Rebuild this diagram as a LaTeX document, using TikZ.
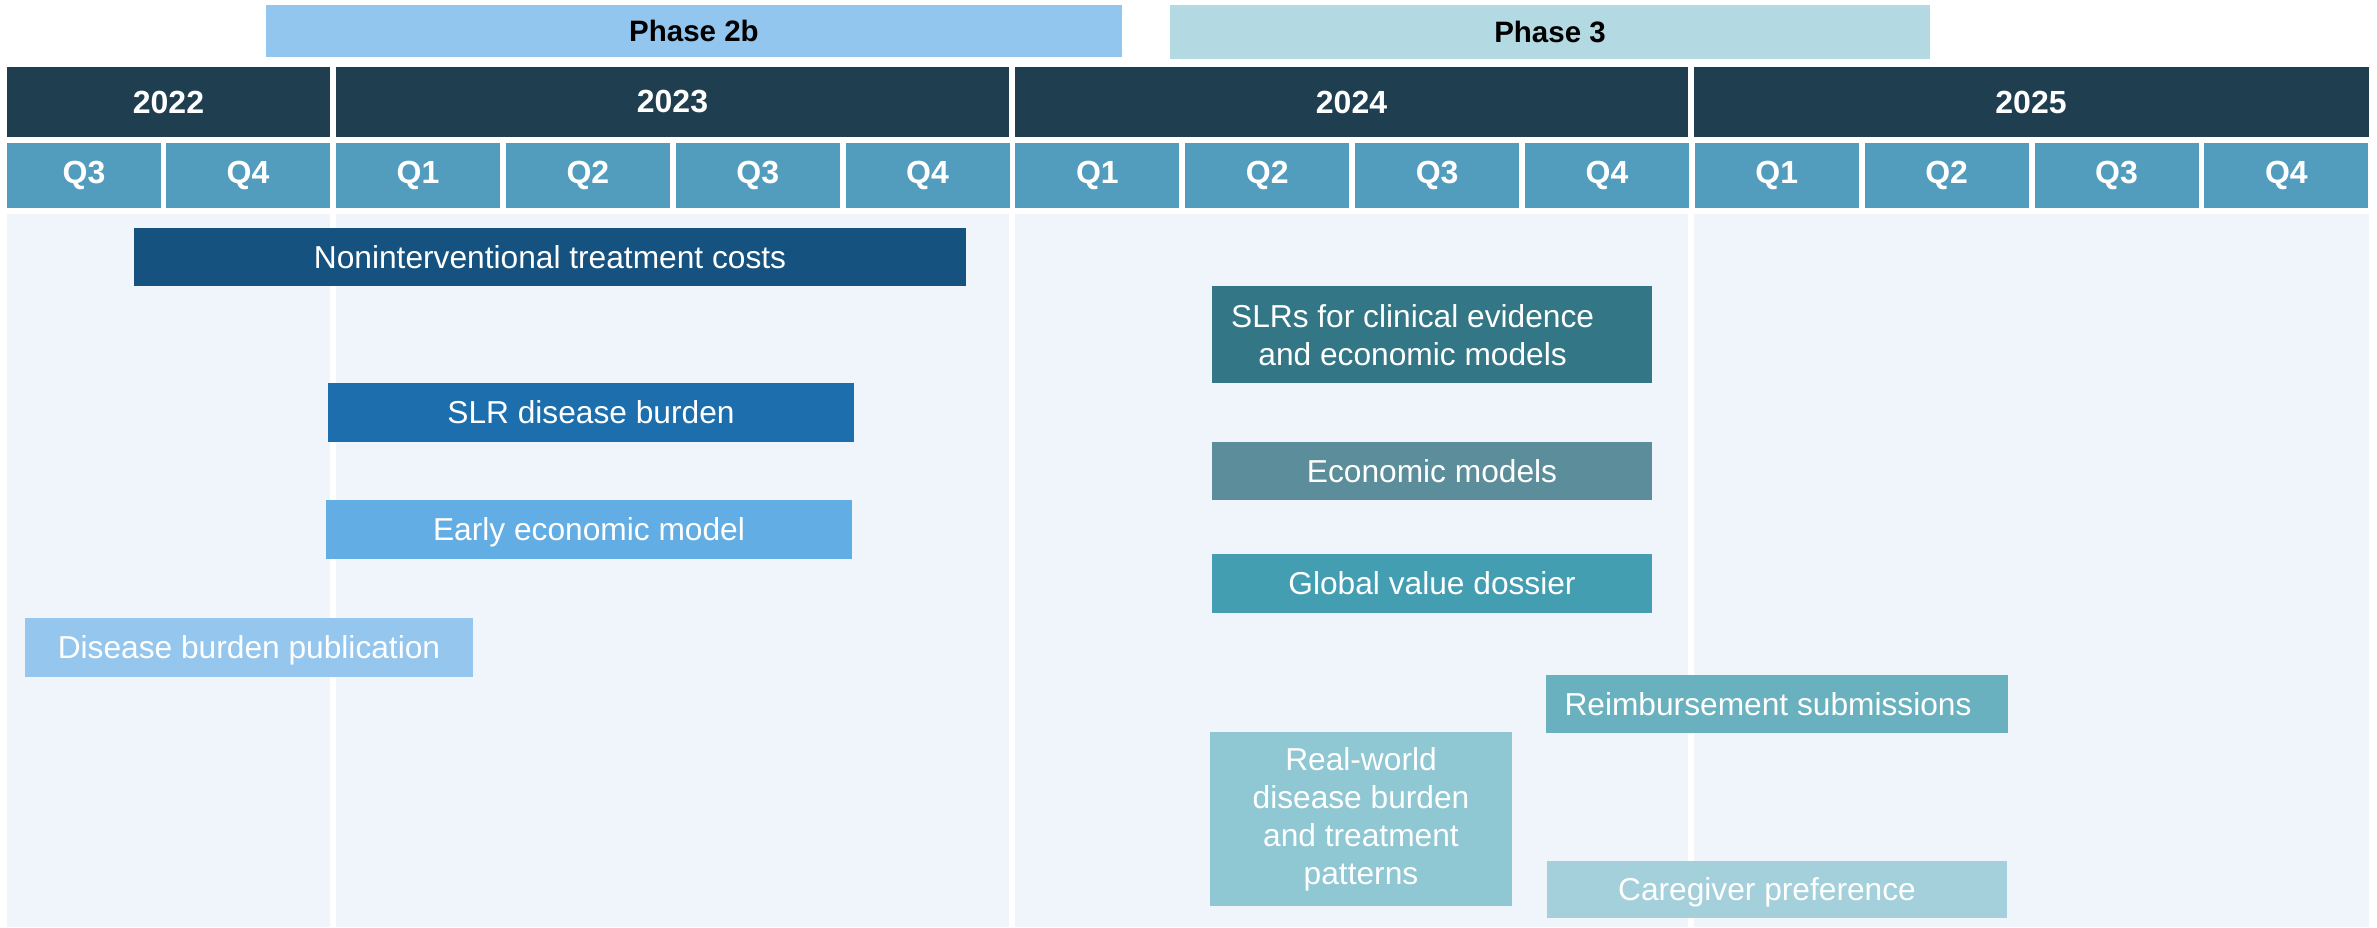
\documentclass[tikz,border=0pt]{standalone}
\usepackage{fontspec}
\setmainfont{Liberation Sans}
\usepackage{xcolor}

\definecolor{phasetwob}{HTML}{93C6EE}
\definecolor{phasethree}{HTML}{B3D9E3}
\definecolor{yearrow}{HTML}{1F3F51}
\definecolor{quarterrow}{HTML}{529DBE}
\definecolor{lanebg}{HTML}{EFF5FA}
\definecolor{nonint}{HTML}{16527F}
\definecolor{slrburden}{HTML}{1C6EAD}
\definecolor{earlyeco}{HTML}{62ADE4}
\definecolor{burdenpub}{HTML}{95C6EE}
\definecolor{slrclin}{HTML}{337786}
\definecolor{ecomodels}{HTML}{5B8E9A}
\definecolor{valuedossier}{HTML}{439EB2}
\definecolor{reimb}{HTML}{6AB1BF}
\definecolor{realworld}{HTML}{8FC7D3}
\definecolor{caregiver}{HTML}{A3D0DB}

\tikzset{
  phasebox/.style={inner sep=0pt, text=black, font=\bfseries\fontsize{29.5}{35}\selectfont},
  yearbox/.style={fill=yearrow, inner sep=0pt, minimum height=70pt, text=white, font=\bfseries\fontsize{32}{38}\selectfont},
  quarterbox/.style={fill=quarterrow, inner sep=0pt, minimum width=164pt, minimum height=65pt, text=white, font=\bfseries\fontsize{32}{38}\selectfont},
  taskbar/.style={inner sep=0pt, text=white, font=\fontsize{31.7}{38}\selectfont, align=center},
  tasktext/.style={inner sep=0pt, text=white, font=\fontsize{31.7}{38}\selectfont, align=center},
  oneline/.style={text height=22.7pt, text depth=0pt}
}

\begin{document}
\begin{tikzpicture}[x=1pt,y=1pt,yscale=-1,xscale=1]
    \useasboundingbox (0,0) rectangle (2377,927);

    % lane background, one column per year
    \foreach \xa/\xb in {7/330,336/1009,1015/1688,1694/2369}
      \fill[lanebg] (\xa,214) rectangle (\xb,927);

    % Phases
    \node[phasebox, fill=phasetwob, minimum width=856pt, minimum height=52pt] (phase2b) at (694,31) {Phase 2b};
    \node[phasebox, fill=phasethree, minimum width=760pt, minimum height=54pt] (phase3) at (1550,32) {Phase 3};

    % Years
    \node[yearbox, minimum width=323pt] (y2022) at (168.5,102) {2022};
    \node[yearbox, minimum width=673pt] (y2023) at (672.5,102) {2023};
    \node[yearbox, minimum width=673pt] (y2024) at (1351.5,102) {2024};
    \node[yearbox, minimum width=675pt] (y2025) at (2031,102) {2025};

    % Quarters
    \node[quarterbox, minimum width=154pt] (q2022c) at (84,175.5) {Q3};
    \node[quarterbox] (q2022d) at (248,175.5) {Q4};
    \foreach \k/\q in {0/1,1/2,2/3,3/4,4/1,5/2,6/3,7/4,8/1,9/2,10/3,11/4}
      \node[quarterbox] (q\k) at ({418+\k*169.85},175.5) {Q\q};

    % Bars, 2022--2023
    \node[taskbar, oneline, fill=nonint, minimum width=832pt, minimum height=58pt] (nonint) at (550,257) {Noninterventional treatment costs};
    \node[taskbar, oneline, fill=slrburden, minimum width=526pt, minimum height=59pt] (slrburden) at (591,412.5) {SLR disease burden};
    \node[taskbar, oneline, fill=earlyeco, minimum width=526pt, minimum height=59pt] (earlyeco) at (589,529.5) {Early economic model};
    \node[taskbar, oneline, fill=burdenpub, minimum width=448pt, minimum height=59pt] (burdenpub) at (249,647.5) {Disease burden publication};

    % Bars, 2024--2025
    \node[taskbar, fill=slrclin, minimum width=440pt, minimum height=96.5pt] (slrclin) at (1432,334.25) {};
    \node[tasktext] (slrclintext) at (1412.6,335) {SLRs for clinical evidence\\and economic models};
    \node[taskbar, oneline, fill=ecomodels, minimum width=440pt, minimum height=57.5pt] (ecomodels) at (1432,470.75) {Economic models};
    \node[taskbar, oneline, fill=valuedossier, minimum width=440pt, minimum height=58.6pt] (dossier) at (1432,583.3) {Global value dossier};
    \node[taskbar, fill=reimb, minimum width=462pt, minimum height=57.6pt] (reimb) at (1777,703.8) {};
    \node[tasktext, oneline] (reimbtext) at (1768,703.8) {Reimbursement submissions};
    \node[taskbar, fill=realworld, minimum width=302pt, minimum height=174pt] (realworld) at (1361,819) {Real-world\\disease burden\\and treatment\\patterns};
    \node[taskbar, fill=caregiver, minimum width=460pt, minimum height=57pt] (caregiver) at (1777,889.5) {};
    \node[tasktext, oneline] (caregivertext) at (1767,889.5) {Caregiver preference};

\end{tikzpicture}
\end{document}
